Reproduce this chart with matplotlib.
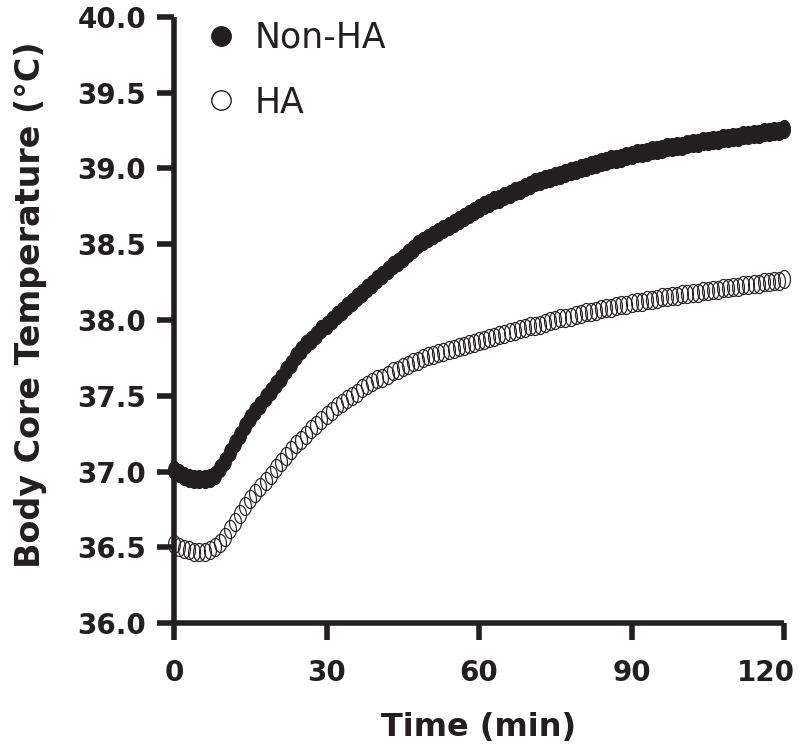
import numpy as np
import matplotlib
matplotlib.use("Agg")
import matplotlib.pyplot as plt
import matplotlib.transforms as mtransforms
from matplotlib.lines import Line2D

# ---------------------------------------------------------------------------
# Data (one point per minute)
# ---------------------------------------------------------------------------
time_min = list(range(0, 121))

non_ha = [
    37.01, 36.99, 36.97, 36.96, 36.95, 36.95, 36.95, 36.96, 36.98, 37.02,
    37.07, 37.13, 37.19, 37.24, 37.30, 37.35, 37.40, 37.44, 37.49, 37.53,
    37.58, 37.62, 37.67, 37.71, 37.76, 37.80, 37.84, 37.87, 37.90, 37.94,
    37.97, 38.00, 38.03, 38.06, 38.09, 38.12, 38.15, 38.18, 38.21, 38.24,
    38.27, 38.30, 38.33, 38.36, 38.38, 38.41, 38.44, 38.47, 38.50, 38.52,
    38.54, 38.56, 38.58, 38.60, 38.62, 38.64, 38.66, 38.68, 38.70, 38.72,
    38.74, 38.76, 38.77, 38.79, 38.80, 38.82, 38.83, 38.85, 38.86, 38.88,
    38.89, 38.91, 38.92, 38.93, 38.94, 38.95, 38.96, 38.97, 38.98, 38.99,
    39.00, 39.01, 39.02, 39.03, 39.04, 39.05, 39.06, 39.06, 39.07, 39.08,
    39.09, 39.10, 39.10, 39.11, 39.12, 39.12, 39.13, 39.14, 39.14, 39.15,
    39.15, 39.16, 39.17, 39.17, 39.18, 39.18, 39.19, 39.19, 39.20, 39.20,
    39.21, 39.21, 39.22, 39.22, 39.23, 39.23, 39.24, 39.24, 39.25, 39.25,
    39.26,
]

ha = [
    36.52, 36.50, 36.49, 36.48, 36.47, 36.47, 36.47, 36.48, 36.50, 36.53,
    36.57, 36.62, 36.67, 36.72, 36.77, 36.82, 36.86, 36.90, 36.94, 36.98,
    37.02, 37.06, 37.10, 37.14, 37.18, 37.21, 37.24, 37.28, 37.31, 37.34,
    37.37, 37.40, 37.43, 37.45, 37.48, 37.50, 37.52, 37.55, 37.57, 37.59,
    37.61, 37.62, 37.64, 37.66, 37.67, 37.69, 37.70, 37.72, 37.73, 37.75,
    37.76, 37.77, 37.78, 37.79, 37.80, 37.81, 37.82, 37.83, 37.84, 37.85,
    37.86, 37.87, 37.88, 37.89, 37.90, 37.91, 37.92, 37.93, 37.94, 37.95,
    37.96, 37.96, 37.97, 37.98, 37.99, 38.00, 38.01, 38.01, 38.02, 38.03,
    38.04, 38.05, 38.05, 38.06, 38.07, 38.08, 38.08, 38.09, 38.10, 38.10,
    38.11, 38.12, 38.12, 38.13, 38.13, 38.14, 38.15, 38.15, 38.16, 38.16,
    38.17, 38.17, 38.18, 38.18, 38.19, 38.19, 38.20, 38.20, 38.21, 38.21,
    38.22, 38.22, 38.23, 38.23, 38.24, 38.24, 38.25, 38.25, 38.26, 38.26,
    38.27,
]

labels = ["Non-HA", "HA"]
x_ticks = [0, 30, 60, 90, 120]
y_ticks = [36.0, 36.5, 37.0, 37.5, 38.0, 38.5, 39.0, 39.5, 40.0]

INK = "#231f20"

# slightly tall elliptical marker, as in the reference
theta = np.linspace(0, 2 * np.pi, 61)
ellipse = np.column_stack([0.66 * np.cos(theta), np.sin(theta)])

fig = plt.figure(figsize=(8, 7.52), dpi=100)
ax = fig.add_axes([0.2175, 0.1715, 0.7625, 0.806])

ax.plot(time_min, non_ha, linestyle="none", marker=ellipse, markersize=13,
        markerfacecolor=INK, markeredgecolor=INK, markeredgewidth=0.8,
        clip_on=False, zorder=3)
ax.plot(time_min, ha, linestyle="none", marker=ellipse, markersize=13,
        markerfacecolor="none", markeredgecolor=INK, markeredgewidth=0.85,
        clip_on=False, zorder=3)

ax.set_xlim(0, 120)
ax.set_ylim(36, 40)
ax.set_xticks(x_ticks)
ax.set_yticks(y_ticks)
ax.set_yticklabels([f"{v:.1f}" for v in y_ticks])

for side in ("top", "right"):
    ax.spines[side].set_visible(False)
for side in ("left", "bottom"):
    ax.spines[side].set_linewidth(4)
    ax.spines[side].set_color(INK)
    ax.spines[side].set_capstyle("butt")

ax.tick_params(axis="both", direction="out", length=12, width=4, color=INK,
               labelsize=20, labelcolor=INK)
ax.tick_params(axis="x", pad=14)
ax.tick_params(axis="y", pad=8)
for t in ax.get_xticklabels() + ax.get_yticklabels():
    t.set_fontweight("bold")

# the last x label sits a little left of its tick so it stays inside the figure
last = ax.get_xticklabels()[-1]
last.set_transform(last.get_transform()
                   + mtransforms.ScaledTranslation(-13 / 72, 0, fig.dpi_scale_trans))

ax.set_xlabel("Time (min)", fontsize=23, fontweight="bold", color=INK)
ax.xaxis.set_label_coords(0.5, -0.172)
ax.xaxis.label.set_verticalalignment("center")
ax.set_ylabel("Body Core Temperature (°C)", fontsize=24, fontweight="bold",
              color=INK)
ax.yaxis.set_label_coords(-0.208, 0.526)

handles = [
    Line2D([], [], linestyle="none", marker="o", markersize=14,
           markerfacecolor=INK, markeredgecolor=INK, markeredgewidth=1.0),
    Line2D([], [], linestyle="none", marker="o", markersize=14,
           markerfacecolor="none", markeredgecolor=INK, markeredgewidth=1.0),
]
leg = fig.legend(handles, labels, loc="upper left",
                 bbox_to_anchor=(204 / 800, 1 - 21 / 752),
                 frameon=False, fontsize=25, borderpad=0, borderaxespad=0,
                 handlelength=1.0, handletextpad=0.45, labelspacing=0.88)
for t in leg.get_texts():
    t.set_color(INK)

fig.savefig("out.png", dpi=100)
